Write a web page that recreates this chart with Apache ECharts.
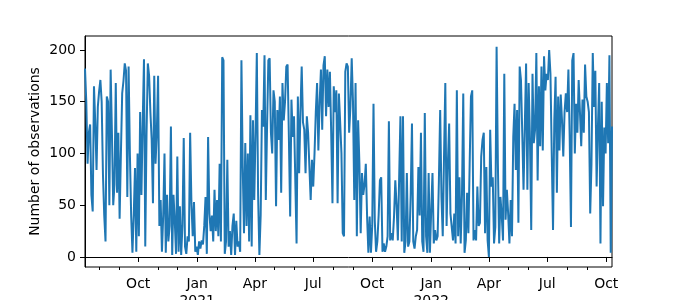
<!DOCTYPE html>
<html><head><meta charset="utf-8">
<script src="https://cdn.jsdelivr.net/npm/echarts@6/dist/echarts.min.js"></script>
<style>html,body{margin:0;padding:0;background:#fff}#c{width:680px;height:300px}</style>
</head><body><div id="c"></div>
<script>
// first observation date and spacing (days)
const startDate = '2020-07-10';
const stepDays = 2;

// observations, read left to right in ten stretches
const seg1 = [182,150,90,120,128,60,44,165,130,84,145,160,171,150,80,40,15,155,150,50,181,120,50,70,168,62,120,37,100,158,170,187,180,58,184,100,40,4,40,86,5];
const seg2 = [100,20,140,60,130,191,10,120,187,175,140,113,52,175,90,120,175,30,55,5,40,100,4,60,15,30,126,2,60,35,3,97,5,49,2,30,115,10,3,20,15];
const seg3 = [120,52,20,53,5,10,2,15,8,16,12,30,58,3,116,42,25,40,15,65,25,55,20,90,15,193,190,3,15,94,10,25,2,30,42,2,35,10,15,5,190];
const seg4 = [87,23,110,30,100,15,137,10,132,55,120,197,60,2,40,142,126,195,55,126,190,192,120,100,161,150,49,142,113,155,62,168,132,150,184,186,116,39,152,116,136];
const seg5 = [136,13,155,81,140,184,130,123,81,136,120,87,55,94,68,100,140,168,103,150,181,123,185,194,136,181,145,179,120,52,165,140,161,52,158,130,100,23,20,179,187];
const seg6 = [184,120,145,192,150,55,168,20,132,90,23,81,60,70,90,39,4,39,4,30,148,35,5,15,40,74,77,5,13,5,10,20,131,16,23,16,39,74,50,16,16];
const seg7 = [136,15,136,4,15,81,10,15,60,129,15,8,20,26,87,40,120,15,5,139,20,4,81,4,45,81,13,26,16,20,74,142,58,20,97,168,30,90,129,42,29,16];
const seg8 = [42,13,161,20,77,13,60,158,4,16,62,23,90,155,161,16,26,16,68,30,33,97,113,120,23,87,16,0,123,68,77,13,29,203,90,13,58,40,16,177,36,65];
const seg9 = [42,13,55,20,116,148,84,142,33,184,171,120,65,126,187,65,168,116,26,177,110,123,197,74,165,107,184,103,194,161,177,171,200,177,100,26,132,174,62,155,103,157];
const seg10 = [132,97,140,158,140,181,116,29,190,197,100,148,120,171,140,107,152,120,186,155,150,140,42,90,197,145,180,68,125,168,13,150,49,125,100,168,110,195,4,126];

// axis ticks
const yTicks = [0, 50, 100, 150, 200];
const majorTickDates = ['2020-10-01','2021-01-01','2021-04-01','2021-07-01','2021-10-01','2022-01-01','2022-04-01','2022-07-01','2022-10-01'];
const minorTickDates = ['2020-08-01','2020-09-01','2020-11-01','2020-12-01','2021-02-01','2021-03-01','2021-05-01','2021-06-01','2021-08-01','2021-09-01','2021-11-01','2021-12-01','2022-02-01','2022-03-01','2022-05-01','2022-06-01','2022-08-01','2022-09-01'];
const monthNames = ['Jan','Feb','Mar','Apr','May','Jun','Jul','Aug','Sep','Oct','Nov','Dec'];
const yLabel = 'Number of observations';

const DAY = 86400000;
const ts = s => Date.parse(s + 'T00:00:00Z');
const values = [].concat(seg1, seg2, seg3, seg4, seg5, seg6, seg7, seg8, seg9, seg10);
const t0 = ts(startDate);
const data = values.map((v, i) => [t0 + i * stepDays * DAY, v]);
const xMin = data[0][0], xMax = data[data.length - 1][0];

const FONT = 'DejaVu Sans';
const chart = echarts.init(document.getElementById('c'), null, {renderer: 'canvas'});
chart.setOption({
  animation: false,
  backgroundColor: '#fff',
  grid: {left: 85, right: 68, top: 36, bottom: 33, outerBoundsMode: 'none', containLabel: false, show: true, borderColor: '#000', borderWidth: 1, backgroundColor: 'transparent'},
  xAxis: [{
    type: 'value', min: xMin, max: xMax,
    axisLine: {lineStyle: {color: '#000', width: 1}},
    splitLine: {show: false},
    axisTick: {customValues: majorTickDates.map(ts), length: 5, lineStyle: {color: '#000'}},
    axisLabel: {
      customValues: majorTickDates.map(ts), margin: 9, color: '#000', fontFamily: FONT, fontSize: 14, lineHeight: 17,
      formatter: v => { const d = new Date(v); const m = d.getUTCMonth(); return m === 0 ? monthNames[m] + '\n' + d.getUTCFullYear() : monthNames[m]; }
    }
  }, {
    type: 'value', min: xMin, max: xMax, position: 'bottom',
    axisLine: {show: false}, splitLine: {show: false}, axisLabel: {show: false},
    axisTick: {customValues: minorTickDates.map(ts), length: 3, lineStyle: {color: '#000'}}
  }],
  yAxis: {
    type: 'value', min: -9.7, max: 213.5,
    name: yLabel, nameLocation: 'middle', nameGap: 43, nameRotate: 90, nameMoveOverlap: false,
    nameTextStyle: {color: '#000', fontFamily: FONT, fontSize: 14},
    axisLine: {show: true, lineStyle: {color: '#000', width: 1}},
    splitLine: {show: false},
    axisTick: {customValues: yTicks, length: 5, lineStyle: {color: '#000'}},
    axisLabel: {customValues: yTicks, margin: 9, color: '#000', fontFamily: FONT, fontSize: 14}
  },
  series: [{
    type: 'line', xAxisIndex: 0, data: data, showSymbol: false, symbol: 'none',
    lineStyle: {color: '#1f77b4', width: 2}, itemStyle: {color: '#1f77b4'}
  }]
});
</script>
</body></html>
